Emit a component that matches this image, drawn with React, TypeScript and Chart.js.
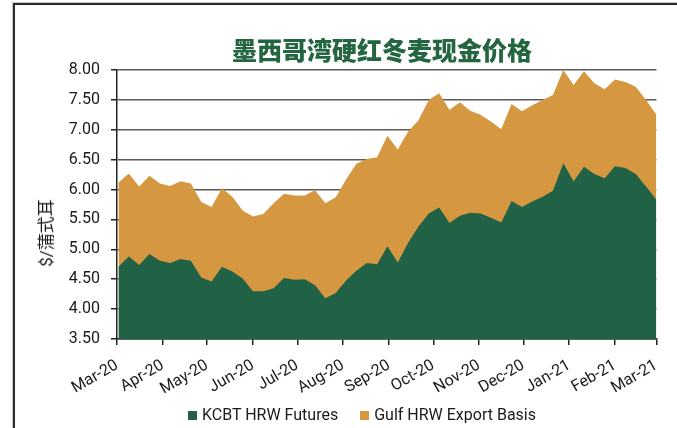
import React, { useEffect, useRef } from "react";
import { Chart, registerables } from "chart.js";

Chart.register(...registerables);

const weekDates = [
  "2020-03-02", "2020-03-09", "2020-03-16", "2020-03-23", "2020-03-30",
  "2020-04-06", "2020-04-13", "2020-04-20", "2020-04-27",
  "2020-05-04", "2020-05-11", "2020-05-18", "2020-05-25",
  "2020-06-01", "2020-06-08", "2020-06-15", "2020-06-22", "2020-06-29",
  "2020-07-06", "2020-07-13", "2020-07-20", "2020-07-27",
  "2020-08-03", "2020-08-10", "2020-08-17", "2020-08-24", "2020-08-31",
  "2020-09-07", "2020-09-14", "2020-09-21", "2020-09-28",
  "2020-10-05", "2020-10-12", "2020-10-19", "2020-10-26",
  "2020-11-02", "2020-11-09", "2020-11-16", "2020-11-23", "2020-11-30",
  "2020-12-07", "2020-12-14", "2020-12-21", "2020-12-28",
  "2021-01-04", "2021-01-11", "2021-01-18", "2021-01-25",
  "2021-02-01", "2021-02-08", "2021-02-15", "2021-02-22",
  "2021-03-01",
];

const futures = [
  4.71, 4.88, 4.74, 4.92, 4.81, 4.77, 4.84, 4.81, 4.53, 4.46,
  4.71, 4.63, 4.51, 4.30, 4.30, 4.35, 4.52, 4.49, 4.50, 4.40,
  4.18, 4.27, 4.48, 4.64, 4.77, 4.75, 5.05, 4.78, 5.11, 5.38,
  5.60, 5.70, 5.44, 5.56, 5.61, 5.60, 5.53, 5.45, 5.81, 5.71,
  5.80, 5.88, 5.98, 6.44, 6.14, 6.38, 6.26, 6.19, 6.39, 6.36,
  6.26, 6.05, 5.83,
];

const basis = [
  1.41, 1.39, 1.31, 1.31, 1.29, 1.29, 1.30, 1.29, 1.26, 1.25,
  1.31, 1.25, 1.14, 1.25, 1.29, 1.42, 1.41, 1.41, 1.40, 1.59,
  1.59, 1.60, 1.69, 1.79, 1.74, 1.79, 1.85, 1.89, 1.86, 1.78,
  1.90, 1.91, 1.89, 1.90, 1.71, 1.65, 1.61, 1.56, 1.62, 1.60,
  1.61, 1.62, 1.60, 1.56, 1.61, 1.60, 1.52, 1.49, 1.45, 1.44,
  1.46, 1.45, 1.42,
];

const monthDates = [
  "2020-03-01", "2020-04-01", "2020-05-01", "2020-06-01", "2020-07-01",
  "2020-08-01", "2020-09-01", "2020-10-01", "2020-11-01", "2020-12-01",
  "2021-01-01", "2021-02-01", "2021-03-01",
];
const monthLabels = [
  "Mar-20", "Apr-20", "May-20", "Jun-20", "Jul-20", "Aug-20", "Sep-20",
  "Oct-20", "Nov-20", "Dec-20", "Jan-21", "Feb-21", "Mar-21",
];

const TITLE = "墨西哥湾硬红冬麦现金价格";
const Y_TITLE = "$/蒲式耳";
const SERIES_NAMES = ["KCBT HRW Futures", "Gulf HRW Export Basis"];
const GREEN = "#216246";
const ORANGE = "#D69741";

const Y_MIN = 3.5;
const Y_MAX = 8;
const Y_STEP = 0.5;

function dayIndex(s: string): number {
  const [y, m, d] = s.split("-").map(Number);
  return (Date.UTC(y, m - 1, d) - Date.UTC(2020, 2, 1)) / 86400000;
}

export default function App() {
  const ref = useRef<HTMLCanvasElement | null>(null);

  useEffect(() => {
    if (!ref.current) return;
    const monthDays = monthDates.map(dayIndex);
    const chart = new Chart(ref.current, {
      type: "line",
      data: {
        datasets: [
          {
            label: SERIES_NAMES[0],
            data: weekDates.map((d, i) => ({ x: dayIndex(d), y: futures[i] })),
            backgroundColor: GREEN,
            borderColor: GREEN,
            borderWidth: 0,
            pointRadius: 0,
            fill: "start",
            tension: 0,
            order: 1,
          },
          {
            label: SERIES_NAMES[1],
            data: weekDates.map((d, i) => ({ x: dayIndex(d), y: basis[i] })),
            backgroundColor: ORANGE,
            borderColor: ORANGE,
            borderWidth: 0,
            pointRadius: 0,
            fill: "start",
            tension: 0,
            order: 2,
          },
        ],
      },
      options: {
        animation: false,
        responsive: false,
        maintainAspectRatio: false,
        layout: { padding: { top: 70, right: 20, left: 0, bottom: 0 } },
        plugins: {
          legend: { display: false },
          title: { display: false },
          tooltip: { enabled: false },
        },
        scales: {
          x: {
            type: "linear",
            min: monthDays[0],
            max: monthDays[monthDays.length - 1],
            afterBuildTicks: (s: any) => {
              s.ticks = monthDays.map((v) => ({ value: v }));
            },
            afterFit: (s: any) => {
              s.height = 89;
            },
            ticks: {
              autoSkip: false,
              minRotation: 30,
              maxRotation: 30,
              padding: 11,
              color: "#1a1a1a",
              font: { family: "Roboto", size: 16 },
              callback: (v: any) => {
                const i = monthDays.indexOf(Number(v));
                return i >= 0 ? monthLabels[i] : "";
              },
            },
            grid: {
              drawOnChartArea: false,
              drawTicks: true,
              tickLength: 6,
              color: "#222",
              lineWidth: 1.5,
            },
            border: { display: true, color: "#222", width: 1.5 },
          },
          y: {
            stacked: true,
            min: Y_MIN,
            max: Y_MAX,
            afterFit: (s: any) => {
              s.width = 117;
            },
            ticks: {
              stepSize: Y_STEP,
              padding: 11,
              color: "#1a1a1a",
              font: { family: "Roboto", size: 16 },
              callback: (v: any) => Number(v).toFixed(2),
            },
            grid: {
              color: "#5a5a5a",
              lineWidth: 1.5,
              tickLength: 6,
              tickColor: "#222",
            },
            border: { display: true, color: "#222", width: 1.5 },
          },
        },
      },
    } as any);
    return () => chart.destroy();
  }, []);

  return (
    <div style={{ position: "fixed", left: 0, top: 0, width: 677, height: 428, background: "#fff", overflow: "hidden" }}>
      <div
        style={{
          position: "absolute",
          left: 13,
          top: 3,
          width: 700,
          height: 500,
          borderLeft: "2px solid #2b2b2b",
          borderTop: "2px solid #2b2b2b",
          boxShadow: "-1px -1px 0 #c8c8c8",
        }}
      />
      <canvas ref={ref} width={677} height={428} style={{ position: "absolute", left: 0, top: 0 }} />
      <div
        style={{
          position: "absolute",
          left: 382,
          top: 37,
          transform: "translateX(-50%)",
          whiteSpace: "nowrap",
          fontFamily: '"Noto Sans CJK SC", sans-serif',
          fontWeight: 900,
          fontSize: 25,
          lineHeight: "25px",
          color: "#236640",
        }}
      >
        {TITLE}
      </div>
      <div
        style={{
          position: "absolute",
          left: 46,
          top: 233,
          transform: "translate(-50%, -50%) rotate(-90deg)",
          whiteSpace: "nowrap",
          fontFamily: 'Roboto, "Noto Sans CJK SC", sans-serif',
          fontSize: 17,
          lineHeight: "20px",
          color: "#1a1a1a",
        }}
      >
        {Y_TITLE}
      </div>
      <div
        style={{
          position: "absolute",
          left: 188,
          top: 405,
          display: "flex",
          alignItems: "center",
          whiteSpace: "nowrap",
          fontFamily: "Roboto, sans-serif",
          fontSize: 16,
          lineHeight: "20px",
          color: "#1a1a1a",
        }}
      >
        <span style={{ display: "inline-block", width: 9, height: 9, background: GREEN, marginRight: 5 }} />
        <span style={{ marginRight: 22 }}>{SERIES_NAMES[0]}</span>
        <span style={{ display: "inline-block", width: 9, height: 9, background: ORANGE, marginRight: 5 }} />
        <span>{SERIES_NAMES[1]}</span>
      </div>
    </div>
  );
}
